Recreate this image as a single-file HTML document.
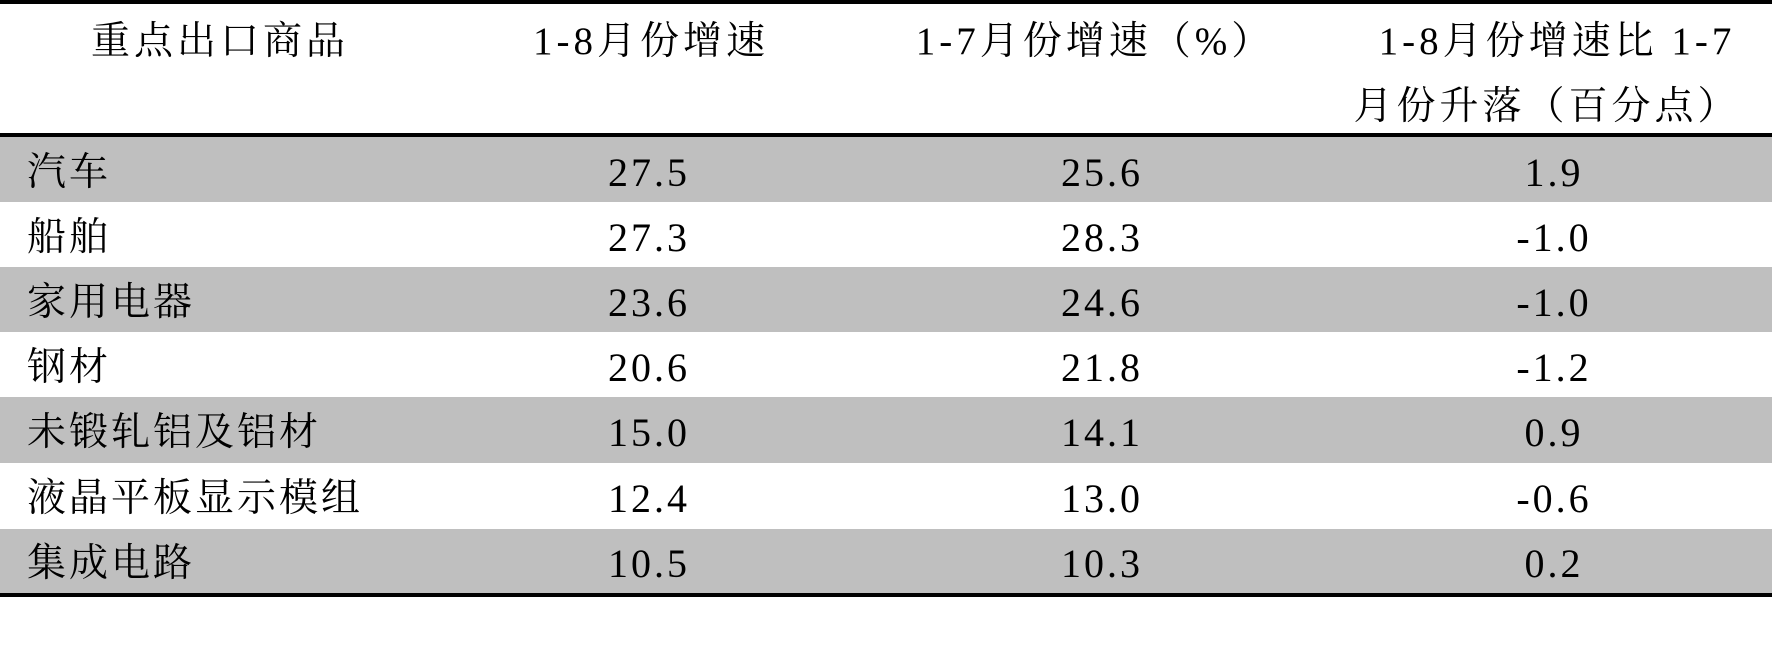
<!DOCTYPE html>
<html><head><meta charset="utf-8"><style>
body{margin:0;width:1772px;height:664px;background:#fff;position:relative;overflow:hidden;
font-family:"Liberation Serif","Noto Serif CJK SC",serif;color:#000}
.l{position:absolute;left:0;width:1772px;background:#000}
.g{position:absolute;left:0;width:1772px;background:#bfbfbf}
.t{position:absolute;white-space:nowrap;font-size:39px;line-height:40px;letter-spacing:4px;text-align:center}
.n{position:absolute;white-space:nowrap;font-size:40px;line-height:40px;letter-spacing:3px;text-align:center;width:300px}
.c{position:absolute;white-space:nowrap;font-size:39px;line-height:40px;letter-spacing:3px;left:27px}
</style></head><body>
<div class="l" style="top:0;height:4px"></div>
<div class="l" style="top:133px;height:4px"></div>
<div class="g" style="top:137px;height:65px"></div>
<div class="g" style="top:267px;height:65px"></div>
<div class="g" style="top:397px;height:66px"></div>
<div class="g" style="top:529px;height:64px"></div>
<div class="l" style="top:593px;height:4px"></div>

<div class="t" style="left:66px;width:300px;top:22px;padding-left:4px">重点出口商品</div>
<div class="t" style="left:497px;width:300px;top:22px;padding-left:4px">1-8月份增速</div>
<div class="t" style="left:891px;width:400px;top:22px;padding-left:4px">1-7月份增速（%）</div>
<div class="t" style="left:1353px;width:400px;top:22px;padding-left:4px">1-8月份增速比 1-7</div>
<div class="t" style="left:1343px;width:400px;top:87px;padding-left:4px">月份升落（百分点）</div>

<div class="c" style="top:153px">汽车</div>
<div class="c" style="top:218px">船舶</div>
<div class="c" style="top:283px">家用电器</div>
<div class="c" style="top:348px">钢材</div>
<div class="c" style="top:413px">未锻轧铝及铝材</div>
<div class="c" style="top:479px">液晶平板显示模组</div>
<div class="c" style="top:544px">集成电路</div>

<div class="n" style="left:499px;top:153px">27.5</div>
<div class="n" style="left:952px;top:153px">25.6</div>
<div class="n" style="left:1404px;top:153px">1.9</div>
<div class="n" style="left:499px;top:218px">27.3</div>
<div class="n" style="left:952px;top:218px">28.3</div>
<div class="n" style="left:1404px;top:218px">-1.0</div>
<div class="n" style="left:499px;top:283px">23.6</div>
<div class="n" style="left:952px;top:283px">24.6</div>
<div class="n" style="left:1404px;top:283px">-1.0</div>
<div class="n" style="left:499px;top:348px">20.6</div>
<div class="n" style="left:952px;top:348px">21.8</div>
<div class="n" style="left:1404px;top:348px">-1.2</div>
<div class="n" style="left:499px;top:413px">15.0</div>
<div class="n" style="left:952px;top:413px">14.1</div>
<div class="n" style="left:1404px;top:413px">0.9</div>
<div class="n" style="left:499px;top:479px">12.4</div>
<div class="n" style="left:952px;top:479px">13.0</div>
<div class="n" style="left:1404px;top:479px">-0.6</div>
<div class="n" style="left:499px;top:544px">10.5</div>
<div class="n" style="left:952px;top:544px">10.3</div>
<div class="n" style="left:1404px;top:544px">0.2</div>
</body></html>
